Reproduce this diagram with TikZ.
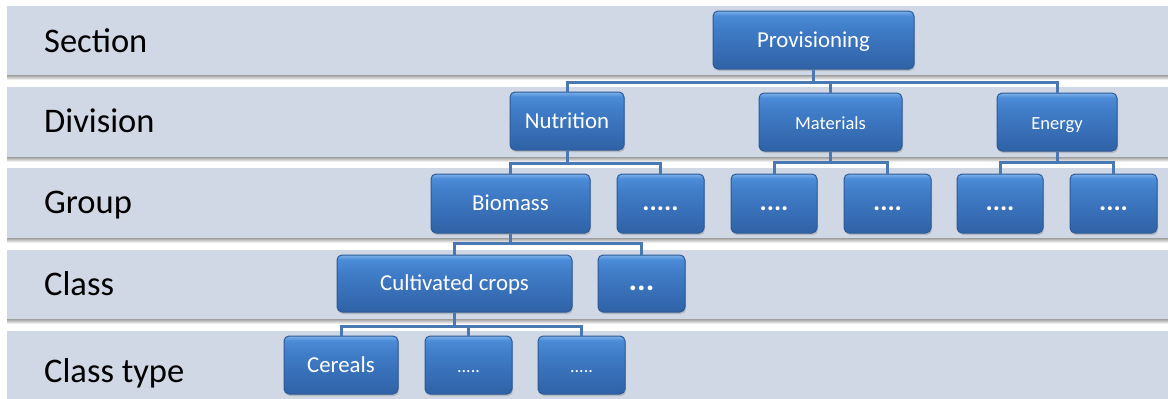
\documentclass[tikz,border=0pt]{standalone}
\usepackage{fontspec}
\setmainfont{Carlito}
\usetikzlibrary{shadows}
\definecolor{bandc}{HTML}{D0D7E5}
\definecolor{boxline}{HTML}{2C5A96}
\definecolor{boxhi}{HTML}{7DB2EC}
\definecolor{boxtop}{HTML}{4B8BD7}
\definecolor{boxmid}{HTML}{3F7BC6}
\definecolor{boxbot}{HTML}{2F62A6}
\definecolor{connc}{HTML}{4A78B2}
\pgfdeclareverticalshading{boxshade}{100bp}{color(0bp)=(boxbot); color(25bp)=(boxbot); color(58bp)=(boxmid); color(71bp)=(boxtop); color(75bp)=(boxhi); color(100bp)=(boxhi)}
\tikzset{
  band/.style={fill=bandc, draw=none},
  bshadow/.style={top color=black!38, bottom color=white, draw=none},
  lbl/.style={anchor=base west, inner sep=0pt, text=black, font=\fontsize{34.5}{37}\selectfont},
  box/.style={draw=boxline, line width=1pt, rounded corners=5pt, shading=boxshade,
    drop shadow={opacity=0.35, shadow xshift=1pt, shadow yshift=-2pt},
    text=white, font=\fontsize{22.8}{25}\selectfont, inner sep=0pt,
    text height=14pt, text depth=0pt, minimum height=58pt},
  small/.style={font=\fontsize{18.5}{20}\selectfont},
  bigdots/.style={font=\bfseries\fontsize{27}{30}\selectfont},
  hugedots/.style={font=\bfseries\fontsize{32}{34}\selectfont},
  tinydots/.style={font=\fontsize{18}{20}\selectfont},
  conn/.style={draw=connc, line width=3pt},
}
\begin{document}
\begin{tikzpicture}[x=1pt,y=-1pt]
\useasboundingbox (0,0) rectangle (1168,399);
\fill[white] (0,0) rectangle (1168,399);
% bands
\foreach \t/\b in {6/75, 87/157, 168/238, 250/319}{
  \fill[band] (7,\t) rectangle (1168,\b);
  \shade[bshadow] (7,\b) rectangle (1168,\b+5);
}
\fill[band] (7,331) rectangle (1168,399);
% row labels
\node[lbl] (lsec) at (44,52) {Section};
\node[lbl] (ldiv) at (44,132) {Division};
\node[lbl] (lgrp) at (44,213) {Group};
\node[lbl] (lcls) at (44,295) {Class};
\node[lbl] (lct) at (44,382) {Class type};
% boxes
\node[box, minimum width=201pt] (prov) at (813.5,40) {Provisioning};
\node[box, minimum width=114pt] (nut) at (567,121) {Nutrition};
\node[box, small, minimum width=143pt] (mat) at (830.5,122) {Materials};
\node[box, small, minimum width=120pt] (ene) at (1057,122) {Energy};
\node[box, minimum width=159pt, minimum height=59pt] (bio) at (510.5,203.5) {Biomass};
\node[box, bigdots, minimum width=87pt, minimum height=59pt] (g1) at (660.5,203.5) {.....};
\node[box, bigdots, minimum width=86pt, minimum height=59pt] (g2) at (774,203.5) {....};
\node[box, bigdots, minimum width=87pt, minimum height=59pt] (g3) at (887.5,203.5) {....};
\node[box, bigdots, minimum width=86pt, minimum height=59pt] (g4) at (1000,203.5) {....};
\node[box, bigdots, minimum width=87pt, minimum height=59pt] (g5) at (1113.5,203.5) {....};
\node[box, minimum width=235pt, minimum height=57pt] (cult) at (454.5,283.5) {Cultivated crops};
\node[box, hugedots, minimum width=87pt, minimum height=57pt] (c2) at (641.5,283.5) {...};
\node[box, minimum width=114pt] (cer) at (341,365) {Cereals};
\node[box, tinydots, minimum width=87pt] (ct2) at (468.5,365) {.....};
\node[box, tinydots, minimum width=87pt] (ct3) at (581.5,365) {.....};
% connectors
\draw[conn] (prov.south) -- ++(0,13) -| (nut.north);
\draw[conn] (prov.south) -- ++(0,13) -| (mat.north);
\draw[conn] (prov.south) -- ++(0,13) -| (ene.north);
\draw[conn] (nut.south) -- ++(0,13) -| (bio.north);
\draw[conn] (nut.south) -- ++(0,13) -| (g1.north);
\draw[conn] (mat.south) -- ++(0,11) -| (g2.north);
\draw[conn] (mat.south) -- ++(0,11) -| (g3.north);
\draw[conn] (ene.south) -- ++(0,11) -| (g4.north);
\draw[conn] (ene.south) -- ++(0,11) -| (g5.north);
\draw[conn] (bio.south) -- ++(0,10) -| (cult.north);
\draw[conn] (bio.south) -- ++(0,10) -| (c2.north);
\draw[conn] (cult.south) -- ++(0,14) -| (cer.north);
\draw[conn] (cult.south) -- ++(0,14) -| (ct2.north);
\draw[conn] (cult.south) -- ++(0,14) -| (ct3.north);
\end{tikzpicture}
\end{document}
